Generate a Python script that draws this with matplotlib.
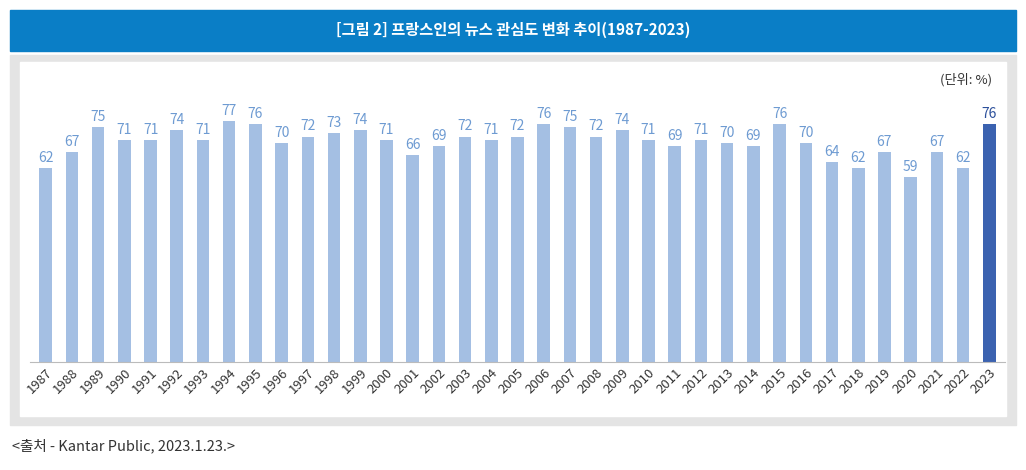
import matplotlib.pyplot as plt
from matplotlib.patches import Rectangle

plt.rcParams['font.family'] = ['Noto Sans CJK KR', 'DejaVu Sans']

years = [str(y) for y in range(1987, 2024)]
values = [62, 67, 75, 71, 71, 74, 71, 77, 76, 70, 72, 73, 74, 71, 66, 69, 72, 71, 72,
          76, 75, 72, 74, 71, 69, 71, 70, 69, 76, 70, 64, 62, 67, 59, 67, 62, 76]

W, H = 1026, 470
fig = plt.figure(figsize=(W / 100, H / 100), dpi=100)

def box(x0, y0, x1, y1, color):
    fig.patches.append(Rectangle((x0 / W, 1 - y1 / H), (x1 - x0) / W, (y1 - y0) / H,
                                 transform=fig.transFigure, color=color, zorder=-10))

# title bar and grey frame
box(10, 10, 1016, 51, '#0a7ec6')
box(10, 55, 1016, 425, '#e4e4e4')
box(20, 62, 1006, 416, 'white')
fig.text(513 / W, 1 - 30 / H, '[그림 2] 프랑스인의 뉴스 관심도 변화 추이(1987-2023)',
         color='white', fontsize=11, fontweight='bold', ha='center', va='center')
fig.text(992 / W, 1 - 80 / H, '(단위: %)', fontsize=9.5, color='#333333', ha='right', va='center')
fig.text(12 / W, 1 - 446 / H, '<출처 - Kantar Public, 2023.1.23.>', fontsize=10.5,
         color='#333333', ha='left', va='center')

ax = fig.add_axes([30 / W, 1 - 362 / H, 975 / W, 262 / H])
colors = ['#a4bfe3'] * (len(values) - 1) + ['#3b62b0']
x = range(len(values))
ax.bar(x, values, width=0.48, color=colors)
for i, v in enumerate(values):
    ax.text(i, v + 1, str(v), ha='center', va='bottom', fontsize=10,
            color='#2b4f9b' if i == len(values) - 1 else '#6e9bd2')
ax.set_xlim(-0.6, len(values) - 0.4)
ax.set_ylim(0, 83.7)
ax.set_xticks(list(x))
ax.set_xticklabels(years, rotation=45, ha='right', rotation_mode='anchor', fontsize=9.5, color='#333333')
ax.set_yticks([])
for s in ['top', 'right', 'left']:
    ax.spines[s].set_visible(False)
ax.spines['bottom'].set_color('#bbbbbb')
ax.tick_params(axis='x', length=0, pad=3)
ax.patch.set_alpha(0)

fig.savefig('out.png', dpi=100)
